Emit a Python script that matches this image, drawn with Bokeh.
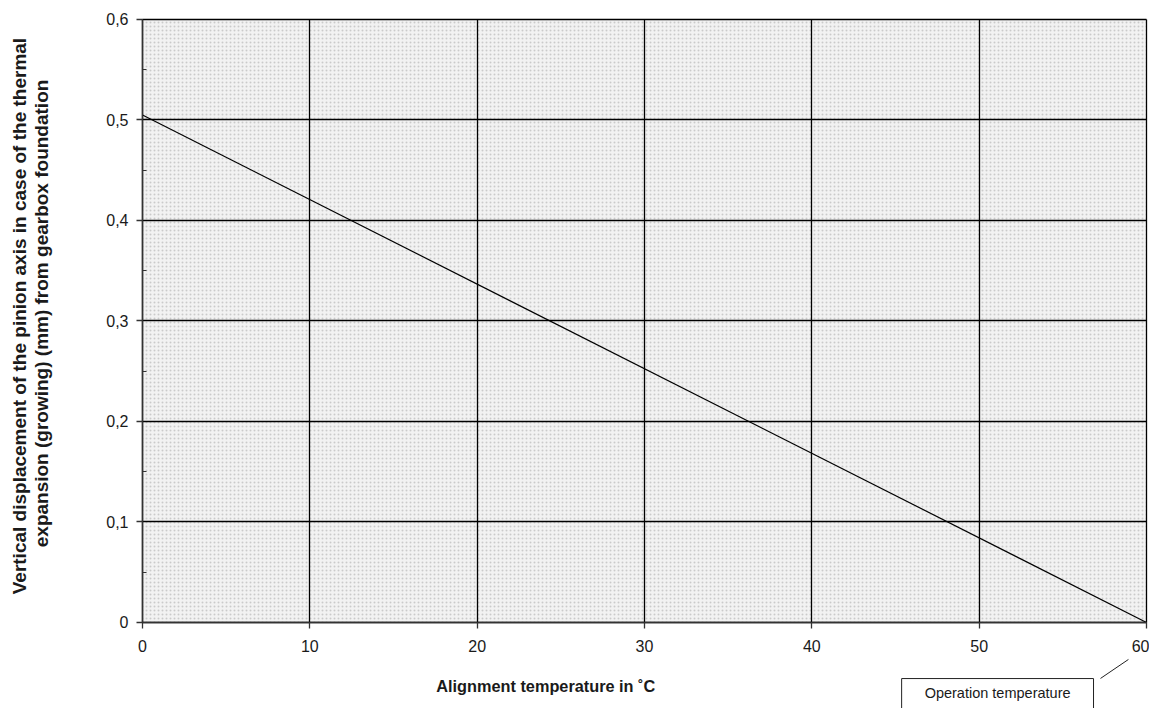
import math
from bokeh.plotting import figure
from bokeh.models import (Range1d, FixedTicker, CustomJSTickFormatter, Label,
                          BoxAnnotation, Arrow)
from bokeh.embed import file_html
from bokeh.resources import INLINE

# data
temperature = [0, 60]
displacement = [0.505, 0.0]
x_ticks = [0, 10, 20, 30, 40, 50, 60]
y_ticks = [0, 0.1, 0.2, 0.3, 0.4, 0.5, 0.6]
y_minor = [0.05, 0.15, 0.25, 0.35, 0.45, 0.55]
x_title = "Alignment temperature in \u02daC"
y_title_1 = "Vertical displacement of the pinion axis in case of  the thermal"
y_title_2 = "expansion (growing) (mm) from gearbox foundation"
note = "Operation temperature"

FONT = "Liberation Sans"
X0, X1 = 0, 60
Y0, Y1 = 0, 0.6

# the frame fills the whole canvas so that no text is clipped;
# the chart itself occupies [0,60] x [0,0.6]
p = figure(width=1149, height=708, output_backend="svg", toolbar_location=None,
           x_range=Range1d(-8.486, 60.179), y_range=Range1d(-0.0856, 0.6189),
           min_border_left=0, min_border_right=0, min_border_top=0,
           min_border_bottom=0)
p.background_fill_color = "white"
p.border_fill_color = "white"
p.outline_line_color = None

tex = BoxAnnotation(left=X0, right=X1, bottom=Y0, top=Y1,
                    fill_color="#f2f2f2", fill_alpha=1,
                    hatch_pattern="dot", hatch_color="#cacaca",
                    hatch_scale=4, hatch_weight=0.6, line_color=None,
                    level="underlay")
p.add_layout(tex)

for g in (p.xgrid, p.ygrid):
    g.grid_line_color = "black"
    g.grid_line_width = 1.3
    g.level = "glyph"
p.xgrid.ticker = FixedTicker(ticks=x_ticks)
p.ygrid.ticker = FixedTicker(ticks=y_ticks)
p.xgrid.cross_bounds = (Y0, Y1)
p.ygrid.cross_bounds = (X0, X1)

p.line(temperature, displacement, line_color="black", line_width=1.2)

xa = p.xaxis[0]
xa.fixed_location = Y0
xa.bounds = (X0, X1)
xa.ticker = FixedTicker(ticks=x_ticks)
xa.major_tick_out = 6
xa.major_tick_in = 0
xa.minor_tick_out = 0
xa.minor_tick_in = 0
xa.major_label_standoff = 12
ya = p.yaxis[0]
ya.fixed_location = X0
ya.bounds = (Y0, Y1)
ya.ticker = FixedTicker(ticks=y_ticks, minor_ticks=y_minor)
ya.major_tick_out = 6
ya.major_tick_in = 0
ya.minor_tick_out = 0
ya.minor_tick_in = 4
ya.major_label_standoff = 8
ya.formatter = CustomJSTickFormatter(
    code="return tick == 0 ? '0' : tick.toFixed(1).replace('.', ',');")
for ax in (xa, ya):
    ax.axis_line_color = "#333333"
    ax.axis_line_width = 1.5
    ax.major_tick_line_color = "#333333"
    ax.major_tick_line_width = 1.3
    ax.minor_tick_line_color = "#333333"
    ax.major_label_text_font = FONT
    ax.major_label_text_font_size = "16px"
    ax.major_label_text_color = "#1a1a1a"

title_style = dict(text_font=FONT, text_font_style="bold", text_font_size="19px",
                   text_color="#1a1a1a", text_align="center",
                   text_baseline="middle", angle=math.pi / 2)
p.add_layout(Label(x=-7.35, y=0.3075, text=y_title_1, **title_style))
p.add_layout(Label(x=-6.04, y=0.3075, text=y_title_2, **title_style))

p.add_layout(Label(x=24.1, y=-0.0637, text=x_title,
                   text_font=FONT, text_font_style="bold", text_font_size="16.3px",
                   text_color="#1a1a1a", text_align="center",
                   text_baseline="middle"))

p.add_layout(Label(x=51.1, y=-0.0767, text=note,
                   text_font=FONT, text_font_size="14.5px", text_color="#1a1a1a",
                   text_align="center", text_baseline="middle",
                   border_line_color="#222222", border_line_width=1,
                   background_fill_color="white",
                   padding=dict(left=23, right=23, top=6, bottom=20)))

p.add_layout(Arrow(end=None, x_start=57.25, y_start=-0.0557, x_end=58.92,
                   y_end=-0.0368, line_color="#222222", line_width=1))

open("out.html", "w").write(file_html(p, INLINE))
